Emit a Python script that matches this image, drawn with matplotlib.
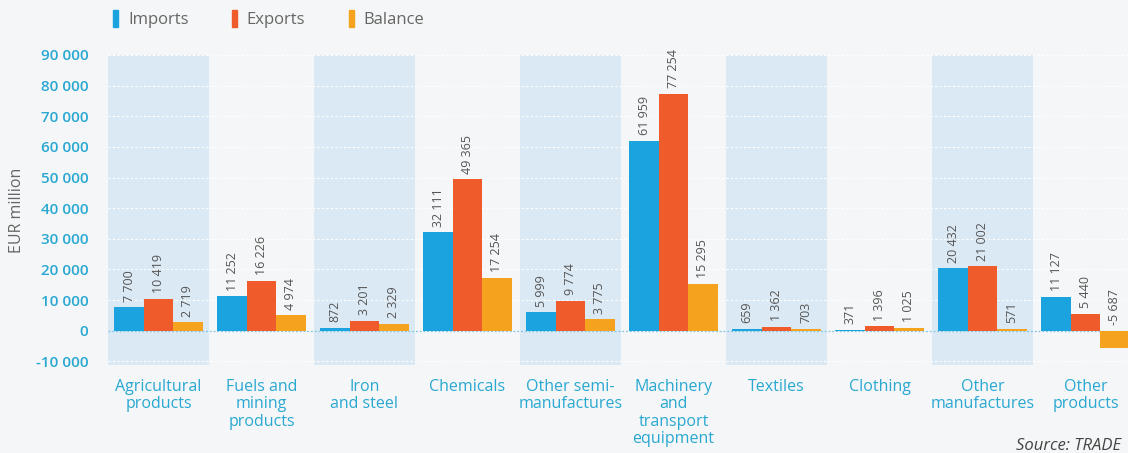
"""
EU trade by product group: imports, exports and balance (EUR million).
"""

import matplotlib.pyplot as plt
import numpy as np


# ---------------------------------------------------------
# Data
# ---------------------------------------------------------
CATEGORIES = [
    "Agricultural\nproducts",
    "Fuels and\nmining\nproducts",
    "Iron\nand steel",
    "Chemicals",
    "Other semi-\nmanufactures",
    "Machinery\nand\ntransport\nequipment",
    "Textiles",
    "Clothing",
    "Other\nmanufactures",
    "Other\nproducts",
]
IMPORTS = [7700, 11252, 872, 32111, 5999, 61959, 659, 371, 20432, 11127]
EXPORTS = [10419, 16226, 3201, 49365, 9774, 77254, 1362, 1396, 21002, 5440]
BALANCE = [2719, 4974, 2329, 17254, 3775, 15295, 703, 1025, 571, -5687]

Y_TICKS = list(range(-10000, 90001, 10000))

# ---------------------------------------------------------
# Style
# ---------------------------------------------------------
C_IMP = "#1aa3df"
C_EXP = "#ef5b2b"
C_BAL = "#f5a21f"
C_BAND = "#dbe9f4"
C_BG = "#f5f6f7"
C_TXT = "#29a8d2"
C_VAL = "#555555"

plt.rcParams["font.family"] = ["Open Sans", "DejaVu Sans"]


def fmt(v):
    return f"{v:,}".replace(",", " ")


def main():
    fig = plt.figure(figsize=(11.28, 4.53), dpi=100, facecolor=C_BG)
    # axes spans pixels x 108..1128, y 55..365
    ax = fig.add_axes([108 / 1128, 1 - 365 / 453, 1020 / 1128, 310 / 453])
    ax.set_facecolor(C_BG)

    x = np.arange(len(CATEGORIES))
    w = 0.285

    # alternate shaded bands
    for i in x[::2]:
        ax.axvspan(i - 0.49, i + 0.49, color=C_BAND, zorder=0, lw=0)

    for yt in Y_TICKS:
        if yt != 0:
            ax.axhline(yt, color="white", lw=0.8, ls=(0, (2, 2)), zorder=1)
    ax.axhline(0, color="#7fc6e6", lw=0.9, ls=(0, (1.5, 1.5)), zorder=1)

    series = [(IMPORTS, C_IMP, -w), (EXPORTS, C_EXP, 0), (BALANCE, C_BAL, w)]
    for vals, col, off in series:
        ax.bar(x + off, vals, width=w, color=col, zorder=2, lw=0)
        for xi, v in zip(x, vals):
            ax.annotate(fmt(v), (xi + off, max(v, 0)), xytext=(0, 4),
                        textcoords="offset points", rotation=90,
                        ha="center", va="bottom", fontsize=9, color=C_VAL)

    ax.set_xlim(-0.49, -0.49 + 1020 / 103)
    ax.set_ylim(-11200, 89000)
    ax.set_yticks(Y_TICKS)
    ax.set_yticklabels([fmt(t) for t in Y_TICKS], color=C_TXT, fontsize=11,
                       fontweight="semibold")
    ax.set_xticks(x)
    ax.set_xticklabels(CATEGORIES, color=C_TXT, fontsize=11.5, linespacing=1.12,
                       va="top")
    ax.tick_params(length=0)
    ax.tick_params(axis="y", pad=14)
    ax.tick_params(axis="x", pad=10)
    for s in ax.spines.values():
        s.set_visible(False)
    ax.set_ylabel("EUR million", color="#666666", fontsize=11.5, labelpad=8)

    # legend
    handles = [plt.Rectangle((0, 0), 1, 1, color=c) for c in (C_IMP, C_EXP, C_BAL)]
    fig.legend(handles, ["Imports", "Exports", "Balance"], ncol=3, frameon=False,
               loc="center left", bbox_to_anchor=(98 / 1128, 1 - 19 / 453),
               handlelength=0.3, handleheight=1.2, handletextpad=0.6,
               columnspacing=2.6, fontsize=12, labelcolor="#666666")

    fig.text(1016 / 1128, 1 - 446 / 453, "Source: TRADE", fontsize=12,
             style="italic", color="#444444", va="center")

    fig.savefig("out.png", dpi=100, facecolor=C_BG)
    plt.close(fig)


if __name__ == "__main__":
    main()
